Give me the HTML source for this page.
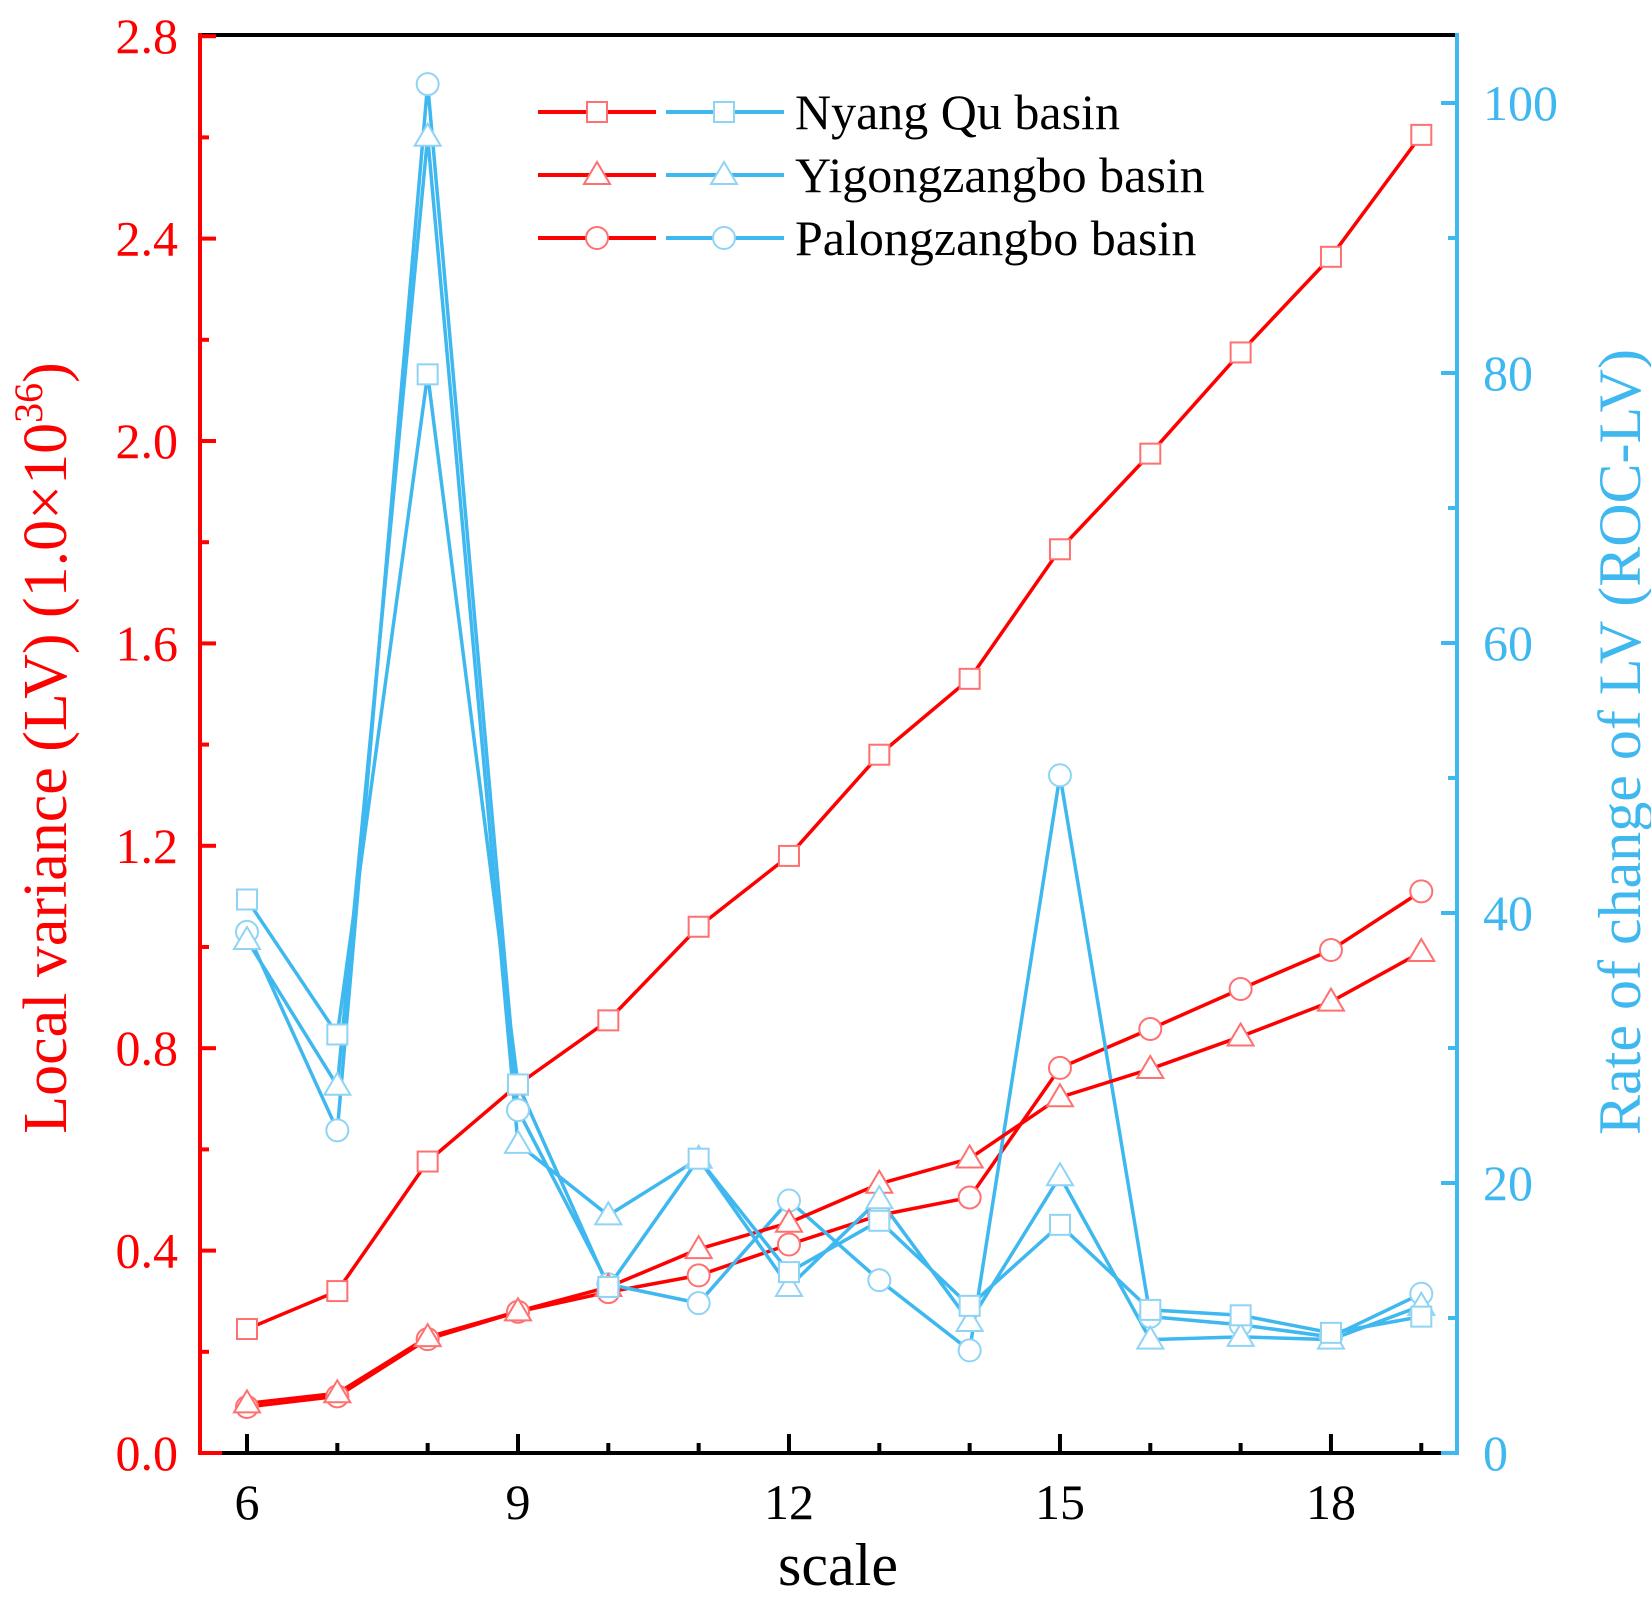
<!DOCTYPE html>
<html><head><meta charset="utf-8"><style>
html,body{margin:0;padding:0;background:#fff;}
svg{display:block;font-family:"Liberation Serif",serif;}
</style></head><body>
<svg id="s" width="1651" height="1600" xmlns="http://www.w3.org/2000/svg"></svg>
<script>
const R="#ff0000",B="#3fb8f0",MR="#ff7070",MB="#8fd4f5";
const X=s=>247+(s-6)*90.33, YL=v=>1453-v*506, YR=v=>1453-v*13.5;
let h='';
h+=`<line x1="200" y1="35" x2="1457" y2="35" stroke="#000" stroke-width="4"/>`;
h+=`<line x1="200" y1="33" x2="200" y2="1455" stroke="${R}" stroke-width="4"/>`;
h+=`<line x1="1457" y1="33" x2="1457" y2="1455" stroke="${B}" stroke-width="4"/>`;
h+=`<line x1="222" y1="1453" x2="1457" y2="1453" stroke="#000" stroke-width="4"/>`;
h+=`<line x1="198" y1="1453" x2="222" y2="1453" stroke="${R}" stroke-width="4"/>`;
for(let i=0;i<=14;i++){let y=YL(i*0.2);let maj=i%2==0;h+=`<line x1="200" y1="${y}" x2="${200+(maj?16:9)}" y2="${y}" stroke="${R}" stroke-width="4"/>`;
 if(maj)h+=`<text x="178" y="${y+17}" font-size="50" fill="${R}" text-anchor="end">${(i*0.2).toFixed(1)}</text>`;}
for(let i=0;i<=10;i++){let y=YR(i*10);let maj=i%2==0;h+=`<line x1="1457" y1="${y}" x2="${1457-(maj?16:9)}" y2="${y}" stroke="${B}" stroke-width="4"/>`;
 if(maj)h+=`<text x="1483" y="${y+17}" font-size="50" fill="${B}">${i*10}</text>`;}
for(let s=6;s<=19;s++){let x=X(s);let maj=(s%3==0);h+=`<line x1="${x}" y1="1453" x2="${x}" y2="${1453-(maj?19:10)}" stroke="#000" stroke-width="4"/>`;
 if(maj)h+=`<text x="${x}" y="1519" font-size="50" text-anchor="middle">${s}</text>`;}
h+=`<text x="838" y="1585" font-size="60" text-anchor="middle">scale</text>`;
h+=`<text transform="translate(66,748) rotate(-90)" font-size="62" fill="${R}" text-anchor="middle">Local variance (LV) (1.0×10<tspan dy="-24" font-size="40">36</tspan><tspan dy="24">)</tspan></text>`;
h+=`<text transform="translate(1640,742) rotate(-90)" font-size="60" fill="${B}" text-anchor="middle">Rate of change of LV (ROC-LV)</text>`;
function mk(t,x,y,c){const r=11;
 if(t=='s')return `<rect x="${x-r+1}" y="${y-r+1}" width="${2*r-2}" height="${2*r-2}" fill="#fff" stroke="${c}" stroke-width="2"/>`;
 if(t=='t')return `<polygon points="${x},${y-13} ${x-13},${y+9} ${x+13},${y+9}" fill="#fff" stroke="${c}" stroke-width="2"/>`;
 return `<circle cx="${x}" cy="${y}" r="${r}" fill="#fff" stroke="${c}" stroke-width="2"/>`;}
const lv={s:[0.245,0.32,0.576,0.728,0.855,1.04,1.18,1.38,1.53,1.786,1.975,2.175,2.364,2.605],
t:[0.098,0.118,0.229,0.28,0.328,0.403,0.455,0.532,0.582,0.703,0.759,0.823,0.892,0.99],
c:[0.091,0.112,0.225,0.279,0.318,0.351,0.412,0.47,0.505,0.761,0.838,0.917,0.994,1.11]};
const roc={s:[41.0,31.0,79.9,27.3,12.3,21.8,13.4,17.2,10.9,16.9,10.6,10.2,8.9,10.1],
t:[38.0,27.2,97.5,22.9,17.6,21.8,12.3,18.8,9.7,20.5,8.4,8.6,8.4,10.9],
c:[38.6,23.9,101.4,25.4,12.5,11.1,18.7,12.8,7.6,50.2,10.1,9.5,8.6,11.8]};
for(const k of ['c','t','s']){
 h+=`<polyline fill="none" stroke="${R}" stroke-width="3.5" points="${lv[k].map((v,i)=>X(6+i)+','+YL(v)).join(' ')}"/>`;
 h+=`<polyline fill="none" stroke="${B}" stroke-width="3.5" points="${roc[k].map((v,i)=>X(6+i)+','+YR(v)).join(' ')}"/>`;}
for(const k of ['c','t','s']){lv[k].forEach((v,i)=>h+=mk(k,X(6+i),YL(v),MR));roc[k].forEach((v,i)=>h+=mk(k,X(6+i),YR(v),MB));}
const L=[['s','Nyang Qu basin',112],['t','Yigongzangbo basin',175],['c','Palongzangbo basin',238]];
for(const [k,t,y] of L){
 h+=`<line x1="538" y1="${y}" x2="656" y2="${y}" stroke="${R}" stroke-width="4"/>`;
 h+=`<line x1="666" y1="${y}" x2="784" y2="${y}" stroke="${B}" stroke-width="4"/>`;
 h+=mk(k,597,y,MR)+mk(k,724,y,MB);
 h+=`<text x="795" y="${y+17}" font-size="50">${t}</text>`;}
document.getElementById('s').innerHTML=h;
</script>
</body></html>
